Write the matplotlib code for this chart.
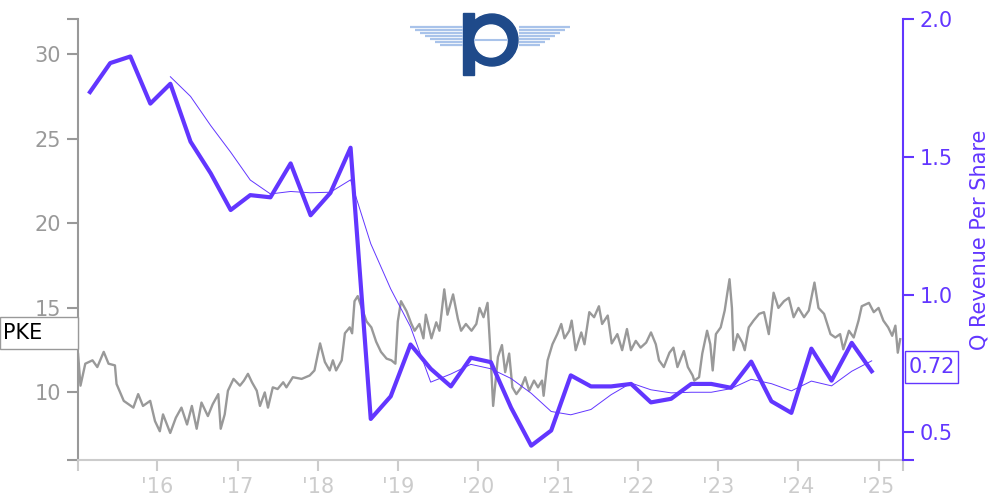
import numpy as np
import pandas as pd
import matplotlib
matplotlib.use("Agg")
import matplotlib.pyplot as plt
from matplotlib.patches import Rectangle, Circle

# Share price (decimal year, price)
price_year = [2015.01, 2015.04, 2015.10, 2015.19, 2015.25, 2015.33, 2015.39, 2015.47, 2015.49, 2015.58,
              2015.70, 2015.76, 2015.82, 2015.91, 2015.97, 2016.03, 2016.07, 2016.16, 2016.23, 2016.30,
              2016.37, 2016.43, 2016.49, 2016.55, 2016.63, 2016.69, 2016.76, 2016.79, 2016.84, 2016.88,
              2016.95, 2017.03, 2017.08, 2017.13, 2017.18, 2017.24, 2017.28, 2017.34, 2017.38, 2017.44,
              2017.50, 2017.57, 2017.61, 2017.69, 2017.80, 2017.90, 2017.96, 2018.03, 2018.09, 2018.15,
              2018.19, 2018.23, 2018.30, 2018.34, 2018.40, 2018.43, 2018.46, 2018.50, 2018.55, 2018.61,
              2018.67, 2018.73, 2018.79, 2018.86, 2018.92, 2018.97, 2019.00, 2019.04, 2019.11, 2019.17,
              2019.21, 2019.27, 2019.32, 2019.35, 2019.42, 2019.48, 2019.52, 2019.58, 2019.62, 2019.69,
              2019.75, 2019.79, 2019.85, 2019.92, 2019.98, 2020.02, 2020.07, 2020.12, 2020.15, 2020.19,
              2020.25, 2020.30, 2020.34, 2020.39, 2020.43, 2020.48, 2020.54, 2020.59, 2020.64, 2020.70,
              2020.75, 2020.80, 2020.82, 2020.87, 2020.93, 2020.99, 2021.04, 2021.08, 2021.14, 2021.17,
              2021.22, 2021.29, 2021.33, 2021.39, 2021.45, 2021.51, 2021.55, 2021.62, 2021.67, 2021.74,
              2021.80, 2021.86, 2021.91, 2021.97, 2022.03, 2022.10, 2022.16, 2022.22, 2022.26, 2022.32,
              2022.39, 2022.44, 2022.49, 2022.57, 2022.62, 2022.68, 2022.70, 2022.76, 2022.80, 2022.86,
              2022.90, 2022.93, 2022.97, 2023.03, 2023.08, 2023.11, 2023.14, 2023.17, 2023.19, 2023.24,
              2023.30, 2023.33, 2023.38, 2023.44, 2023.51, 2023.57, 2023.63, 2023.69, 2023.75, 2023.82,
              2023.88, 2023.94, 2024.00, 2024.07, 2024.13, 2024.20, 2024.25, 2024.32, 2024.40, 2024.46,
              2024.52, 2024.56, 2024.63, 2024.69, 2024.75, 2024.79, 2024.88, 2024.94, 2025.00, 2025.06,
              2025.12, 2025.17, 2025.21, 2025.24, 2025.27]
price = [12.27, 10.4, 11.7, 11.9, 11.5, 12.4, 11.7, 11.6, 10.5, 9.5,
         9.1, 9.9, 9.2, 9.5, 8.3, 7.7, 8.7, 7.6, 8.5, 9.1,
         8.1, 9.2, 7.85, 9.4, 8.6, 9.3, 9.9, 7.85, 8.7, 10.1,
         10.8, 10.4, 10.7, 11.1, 10.6, 10.1, 9.2, 10.0, 9.1, 10.3,
         10.2, 10.6, 10.3, 10.9, 10.8, 11.0, 11.3, 12.9, 11.8, 11.3,
         11.9, 11.3, 11.9, 13.5, 13.85, 13.5, 15.4, 15.7, 15.0, 14.2,
         13.85, 13.0, 12.4, 12.0, 11.9, 11.7, 14.2, 15.4, 14.8, 14.05,
         13.65, 14.05, 13.2, 14.6, 13.2, 14.15, 13.65, 16.1, 14.6, 15.8,
         14.35, 13.65, 14.05, 13.65, 14.05, 15.0, 14.45, 15.3, 12.9, 9.2,
         12.1, 12.8, 11.2, 12.3, 10.3, 9.9, 10.3, 10.9, 10.1, 10.7,
         10.3, 10.7, 9.8, 11.9, 12.85, 13.45, 14.05, 13.2, 13.65, 14.25,
         12.5, 13.55, 12.85, 14.75, 14.45, 15.1, 14.05, 14.55, 12.9, 13.45,
         12.5, 13.75, 12.5, 13.05, 12.65, 12.95, 13.55, 12.85, 11.9, 11.5,
         12.35, 12.65, 11.5, 12.45, 11.5, 11.0, 10.7, 10.9, 12.3, 13.65,
         12.85, 11.3, 13.45, 13.85, 14.85, 15.8, 16.7, 15.0, 12.5, 13.45,
         12.95, 12.5, 13.85, 14.25, 14.65, 14.75, 13.45, 15.9, 15.0, 15.4,
         15.6, 14.45, 15.0, 14.45, 14.85, 16.5, 15.0, 14.65, 13.45, 13.25,
         13.45, 12.55, 13.65, 13.25, 14.25, 15.1, 15.3, 14.75, 15.0, 14.25,
         13.85, 13.35, 13.95, 12.35, 13.15]

# Quarterly revenue per share (fiscal quarter ends)
q_dates = pd.date_range("2015-02-28", periods=40, freq="3ME")
q_rev = [1.735, 1.84, 1.864, 1.693, 1.765, 1.555, 1.44, 1.307, 1.361, 1.353,
         1.476, 1.288, 1.369, 1.533, 0.549, 0.631, 0.819, 0.731, 0.667, 0.771,
         0.755, 0.59, 0.452, 0.507, 0.707, 0.667, 0.667, 0.676, 0.609, 0.622,
         0.676, 0.676, 0.662, 0.757, 0.613, 0.571, 0.804, 0.688, 0.825, 0.722]

year_ticks = [2016, 2017, 2018, 2019, 2020, 2021, 2022, 2023, 2024, 2025]
year_labels = ["'16", "'17", "'18", "'19", "'20", "'21", "'22", "'23", "'24", "'25"]

purple = "#6236ff"
gray = "#999999"
light = "#cccccc"

q_year = q_dates.year + (q_dates.dayofyear - 1) / 365.25
q_avg = pd.Series(q_rev).rolling(4).mean()

fig = plt.figure(figsize=(10, 5), dpi=100)
ax = fig.add_axes([0.078, 0.08, 0.825, 0.882])
ax2 = ax.twinx()

ax.plot(price_year, price, color=gray, lw=1.7)
ax2.plot(q_year, q_rev, color=purple, lw=3.0)
ax2.plot(q_year[4:], q_avg[4:], color=purple, lw=0.7)

x0, x1 = 2015.009, 2025.305
ax.set_xlim(x0, x1)
ax.set_ylim(6.0, 32.1)
ax2.set_ylim(0.4, 2.0)

ax.set_xticks([x0] + year_ticks + [x1])
ax.set_xticklabels([""] + year_labels + [""])
ax.set_yticks([6.0, 10, 15, 20, 25, 30, 32.1])
ax.set_yticklabels(["", "10", "15", "20", "25", "30", ""])
ax2.set_yticks([0.4, 0.5, 1.0, 1.5, 2.0])
ax2.set_yticklabels(["", "0.5", "1.0", "1.5", "2.0"])

ax.spines["top"].set_visible(False)
ax2.spines["top"].set_visible(False)
ax2.spines["left"].set_visible(False)
ax2.spines["bottom"].set_visible(False)
ax.spines["right"].set_visible(False)
ax.spines["left"].set_color(gray)
ax.spines["left"].set_linewidth(1.5)
ax.spines["bottom"].set_color(light)
ax.spines["bottom"].set_linewidth(1.5)
ax2.spines["right"].set_color(purple)
ax2.spines["right"].set_linewidth(1.5)

ax.tick_params(axis="y", colors=gray, labelsize=15, length=8, width=1.5, pad=4)
ax.tick_params(axis="x", colors=light, labelsize=15, length=8, width=1.5, pad=4)
ax2.tick_params(axis="y", colors=purple, labelsize=15, length=8, width=1.5, pad=4)
ax2.set_ylabel("Q Revenue Per Share", color=purple, fontsize=15, labelpad=12)

# ticker label on the left
fig.patches.append(Rectangle((0.0, 1 - 349 / 500), 0.078, 32 / 500, transform=fig.transFigure,
                             facecolor="white", edgecolor=gray, lw=1))
fig.text(0.003, 1 - 333 / 500, "PKE", fontsize=15, color="black", va="center", ha="left")

# last value label on the right
fig.patches.append(Rectangle((0.905, 1 - 383 / 500), 0.053, 32 / 500, transform=fig.transFigure,
                             facecolor="white", edgecolor=purple, lw=1))
fig.text(0.9315, 1 - 367 / 500, f"{q_rev[-1]:.2f}", fontsize=15, color=purple, va="center", ha="center")

# logo
lg = fig.add_axes([0.40, 1 - 90 / 500, 0.18, 0.18])
lg.set_xlim(400, 580)
lg.set_ylim(90, 0)
lg.axis("off")
wing = "#a9c3ea"
dark = "#1f4a8a"
for i in range(7):
    yy = 27 + i * 3
    lg.plot([410 + i * 5, 463], [yy, yy], color=wing, lw=1.6, solid_capstyle="butt")
    lg.plot([519, 570 - i * 5], [yy, yy], color=wing, lw=1.6, solid_capstyle="butt")
lg.add_patch(Rectangle((463, 13), 11, 62, color=dark))
lg.add_patch(Circle((492, 40), 26, color=dark))
lg.add_patch(Circle((491, 41), 16, color="white"))
lg.plot([475, 507], [40, 40], color=wing, lw=1.5)

fig.savefig("out.png", dpi=100)
